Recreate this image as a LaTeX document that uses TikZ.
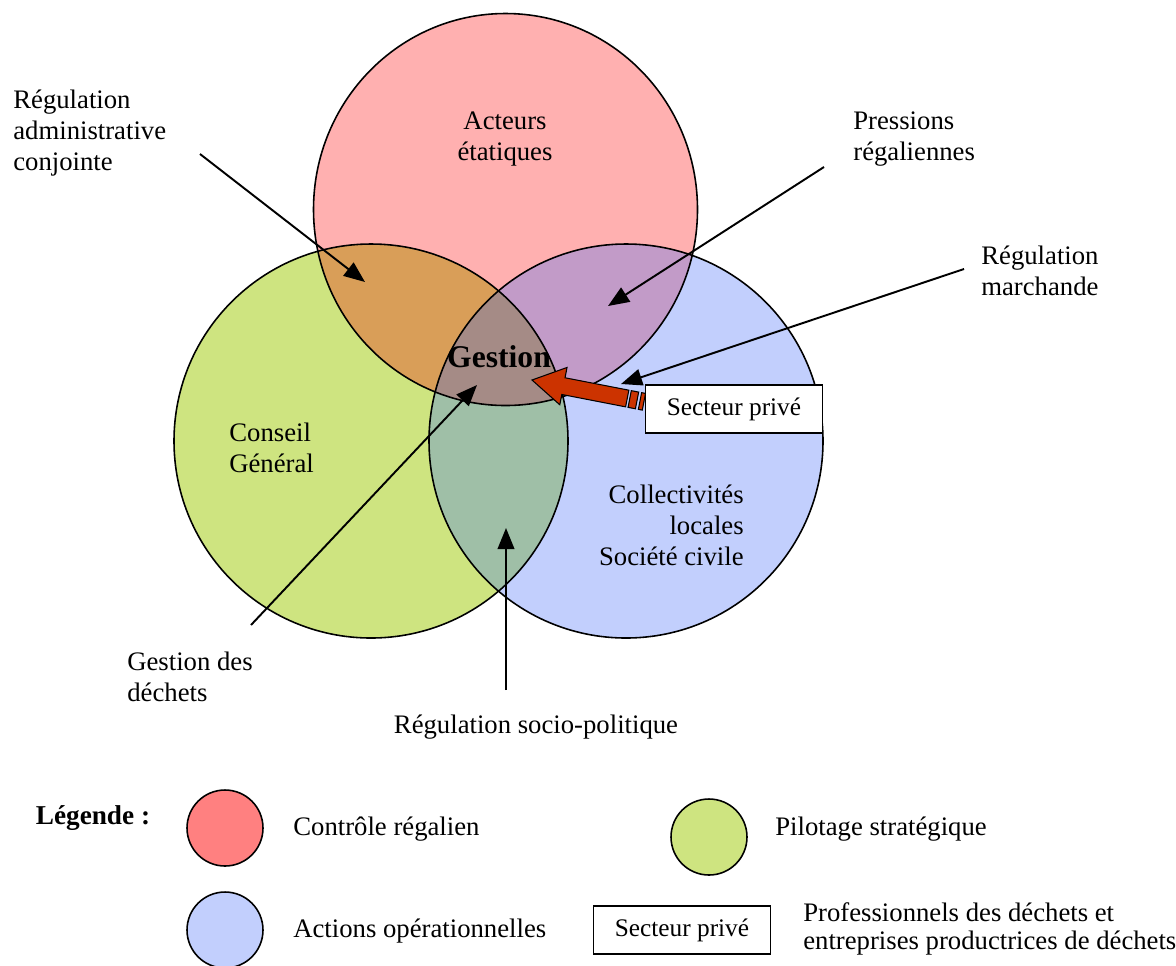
\documentclass[tikz,border=0pt]{standalone}
\usepackage{fontspec}
\setmainfont{Liberation Serif}
\usetikzlibrary{arrows.meta}

\definecolor{rouge}{HTML}{FFB0B0}
\definecolor{vert}{HTML}{CEE480}
\definecolor{bleu}{HTML}{C2CFFD}
\definecolor{rougevert}{HTML}{D99E58}
\definecolor{rougebleu}{HTML}{C29BC8}
\definecolor{vertbleu}{HTML}{9FBFA7}
\definecolor{troiszones}{HTML}{A58B86}
\definecolor{legrouge}{HTML}{FF8080}
\definecolor{fleche}{HTML}{CC3300}

\tikzset{
    lbl/.style={inner sep=0pt, font=\fontsize{15.2}{17.6}\selectfont},
    ptr/.style={-{Triangle[length=12pt,width=9.5pt]}, line width=1.1pt},
    cercle/.style={draw, line width=0.9pt},
    legcercle/.style={circle, draw, line width=0.9pt, minimum size=1.52cm, inner sep=0pt},
    boite/.style={inner sep=0pt, font=\fontsize{14.4}{17}\selectfont, draw, line width=0.8pt, fill=white, minimum width=3.54cm, minimum height=0.96cm}
}

\begin{document}
\begin{tikzpicture}[x=0.02cm, y=-0.02cm]
    \useasboundingbox (0,0) rectangle (1176,965);

    \coordinate (cR) at (505.5,209.5);
    \coordinate (cV) at (371,441);
    \coordinate (cB) at (626,441);

    \fill[rouge] (cR) ellipse (192 and 196);
    \fill[vert] (cV) circle (197);
    \fill[bleu] (cB) circle (197);
    \begin{scope}
        \clip (cV) circle (197);
        \fill[vertbleu] (cB) circle (197);
    \end{scope}
    \begin{scope}
        \clip (cR) ellipse (192 and 196);
        \fill[rougevert] (cV) circle (197);
        \fill[rougebleu] (cB) circle (197);
        \clip (cV) circle (197);
        \fill[troiszones] (cB) circle (197);
    \end{scope}
    \draw[cercle] (cR) ellipse (192 and 196);
    \draw[cercle] (cV) circle (197);
    \draw[cercle] (cB) circle (197);

    \node[lbl, align=center] (acteurs) at (505,139) {Acteurs\\étatiques};
    \node[lbl, align=left, anchor=west] (conseil) at (229,448) {Conseil\\Général};
    \node[lbl, align=right, anchor=east] (collect) at (744,525) {Collectivités\\locales\\Société civile};
    \node[inner sep=0pt, font=\fontsize{18}{20}\selectfont\bfseries] (gestion) at (499,357) {Gestion};

    \begin{scope}[shift={(532,380)}, rotate=-11]
        \filldraw[fill=fleche, line width=0.6pt] (0,0) -- (32,-19) -- (32,-8.5) -- (97,-8.5)
            -- (97,8.5) -- (32,8.5) -- (32,19) -- cycle;
        \filldraw[fill=fleche, line width=0.6pt] (99.5,-8.5) rectangle (107,8.5);
        \filldraw[fill=fleche, line width=0.6pt] (110,-8.5) rectangle (114,8.5);
    \end{scope}
    \node[boite] (prive) at (734,409) {Secteur privé};

    \node[lbl, align=left, anchor=west] (adm) at (13,133) {Régulation\\administrative\\conjointe};
    \node[lbl, align=left, anchor=west] (press) at (853,139) {Pressions\\régaliennes};
    \node[lbl, align=left, anchor=west] (march) at (981,271) {Régulation\\marchande};
    \node[lbl, align=left, anchor=west] (dechets) at (127,677) {Gestion des\\déchets};
    \node[lbl] (socio) at (536,727) {Régulation socio-politique};

    \coordinate (adm-a) at (200,154);
    \coordinate (adm-b) at (365,282);
    \coordinate (press-a) at (824,167);
    \coordinate (press-b) at (608,306);
    \coordinate (march-a) at (964,269);
    \coordinate (march-b) at (621,384);
    \coordinate (dechets-a) at (251,625);
    \coordinate (dechets-b) at (477,385);
    \coordinate (socio-a) at (506,690);
    \coordinate (socio-b) at (506,528);
    \draw[ptr] (adm-a) -- (adm-b);
    \draw[ptr] (press-a) -- (press-b);
    \draw[ptr] (march-a) -- (march-b);
    \draw[ptr] (dechets-a) -- (dechets-b);
    \draw[ptr] (socio-a) -- (socio-b);

    \node[inner sep=0pt, font=\fontsize{15.5}{17}\selectfont\bfseries] (legende) at (93,818) {Légende :};
    \node[legcercle, fill=legrouge] (leg-r) at (225,828) {};
    \node[lbl, anchor=west] (leg-rt) at (293,829) {Contrôle régalien};
    \node[legcercle, fill=vert] (leg-v) at (709,837) {};
    \node[lbl, anchor=west] (leg-vt) at (775,829) {Pilotage stratégique};
    \node[legcercle, fill=bleu] (leg-b) at (225,930) {};
    \node[lbl, anchor=west] (leg-bt) at (293,931) {Actions opérationnelles};
    \node[boite] (leg-p) at (682,930) {Secteur privé};
    \node[lbl, align=left, anchor=west, font=\fontsize{15.2}{15.5}\selectfont] (leg-pt) at (803,929) {Professionnels des déchets et\\entreprises productrices de déchets};
\end{tikzpicture}
\end{document}
